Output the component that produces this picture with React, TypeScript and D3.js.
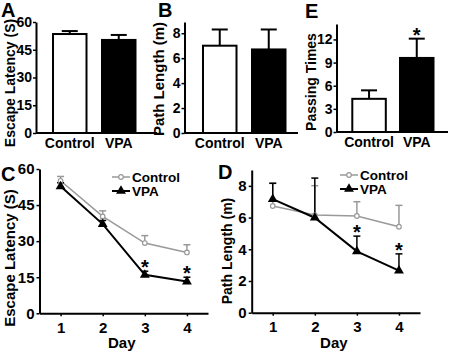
import { useRef, useEffect } from "react";
import * as d3 from "d3";

// bar panels (A, B, E)
const groups = ["Control", "VPA"];
const latencyMeans = [53.5, 50.3];
const latencyErr = [1.6, 2.7];
const pathMeans = [7.0, 6.7];
const pathErr = [1.3, 1.6];
const passingMeans = [4.3, 9.6];
const passingErr = [1.1, 2.5];
const passingSig = [false, true];

// line panels (C, D)
const days = [1, 2, 3, 4];
const ctrlLatency = [55.1, 40.3, 29.2, 25.3];
const ctrlLatencyErr = [1.8, 2.3, 3.1, 3.2];
const vpaLatency = [52.8, 37.1, 16.0, 13.2];
const vpaLatencyErr = [1.5, 1.5, 1.5, 1.8];
const latencySigDays = [3, 4];
const ctrlPath = [6.73, 6.16, 6.1, 5.42];
const ctrlPathErr = [1.45, 1.85, 0.9, 1.35];
const vpaPath = [7.16, 5.99, 3.87, 2.65];
const vpaPathErr = [1.0, 2.5, 0.96, 1.06];
const pathSigDays = [3, 4];

const FONT = "'Liberation Sans', Arial, sans-serif";
const GRAY = "#999999";

const App = () => {
    const svgRef = useRef<SVGSVGElement | null>(null);

    useEffect(() => {
        const svg = d3.select(svgRef.current);
        svg.selectAll("*").remove();
        svg.attr("font-family", FONT).attr("font-weight", "bold");

        const letter = (t: string, x: number, y: number) =>
            svg.append("text").attr("x", x).attr("y", y).attr("font-size", 20).text(t);

        const yTitle = (t: string, x: number, y: number, size: number) =>
            svg.append("text")
                .attr("transform", `translate(${x},${y}) rotate(-90)`)
                .attr("text-anchor", "middle")
                .attr("font-size", size)
                .text(t);

        const styleAxis = (g: any) => {
            g.select(".domain").attr("stroke", "#000").attr("stroke-width", 2);
            g.selectAll(".tick line").attr("stroke", "#000").attr("stroke-width", 1.5);
            g.selectAll(".tick text")
                .attr("font-family", FONT)
                .attr("font-weight", "bold")
                .attr("font-size", 14)
                .attr("fill", "#000");
        };

        const star = (x: number, yCenter: number) =>
            svg.append("text")
                .attr("x", x)
                .attr("y", yCenter + 11)
                .attr("text-anchor", "middle")
                .attr("font-size", 20)
                .text("*");

        // ---------- BAR PANELS ----------
        const barPanel = (cfg: any) => {
            const y = d3.scaleLinear().domain([0, cfg.max]).range([cfg.y0, cfg.yTop]);
            const x = d3.scaleBand()
                .domain(groups)
                .range([cfg.barStart, cfg.barStart + cfg.step + cfg.barW])
                .paddingInner(1 - cfg.barW / cfg.step)
                .paddingOuter(0);
            const g = svg.append("g");

            g.selectAll("rect.bar")
                .data(groups)
                .join("rect")
                .attr("x", (d) => x(d)!)
                .attr("width", x.bandwidth())
                .attr("y", (d, i) => y(cfg.means[i]))
                .attr("height", (d, i) => cfg.y0 - y(cfg.means[i]))
                .attr("fill", (d, i) => (i === 0 ? "#fff" : "#000"))
                .attr("stroke", "#000")
                .attr("stroke-width", 2);

            // upward error bars
            groups.forEach((d, i) => {
                const cx = x(d)! + x.bandwidth() / 2;
                const top = y(cfg.means[i] + cfg.errs[i]);
                g.append("line").attr("x1", cx).attr("x2", cx)
                    .attr("y1", y(cfg.means[i])).attr("y2", top)
                    .attr("stroke", "#000").attr("stroke-width", 2);
                g.append("line").attr("x1", cx - 8).attr("x2", cx + 8)
                    .attr("y1", top).attr("y2", top)
                    .attr("stroke", "#000").attr("stroke-width", 2);
                if (cfg.sig && cfg.sig[i]) star(cx, top - 8);
                g.append("text")
                    .attr("x", cx)
                    .attr("y", cfg.y0 + 15)
                    .attr("text-anchor", "middle")
                    .attr("font-size", 14)
                    .text(d);
            });

            // x axis line
            g.append("line")
                .attr("x1", cfg.axisX).attr("x2", cfg.axisEnd)
                .attr("y1", cfg.y0).attr("y2", cfg.y0)
                .attr("stroke", "#000").attr("stroke-width", 2);

            const ya = g.append("g")
                .attr("transform", `translate(${cfg.axisX},0)`)
                .call(d3.axisLeft(y).tickValues(cfg.ticks).tickSize(3).tickSizeOuter(0).tickPadding(1));
            styleAxis(ya);

            letter(cfg.letter, cfg.letterX, cfg.letterY);
            yTitle(cfg.title, cfg.titleX, cfg.titleY, cfg.titleSize);
        };

        barPanel({
            means: latencyMeans, errs: latencyErr, max: 60, ticks: [0, 15, 30, 45, 60],
            y0: 133, yTop: 22, axisX: 36, axisEnd: 157, barStart: 53, barW: 33.5, step: 49,
            letter: "A", letterX: 1, letterY: 17, title: "Escape Latency (S)", titleX: 15, titleY: 83, titleSize: 14,
        });
        barPanel({
            means: pathMeans, errs: pathErr, max: 8.9, ticks: [0, 2, 4, 6, 8],
            y0: 133, yTop: 22, axisX: 184.5, axisEnd: 298, barStart: 203, barW: 33.5, step: 49,
            letter: "B", letterX: 158, letterY: 17, title: "Path Length (m)", titleX: 164, titleY: 79, titleSize: 15,
        });
        barPanel({
            means: passingMeans, errs: passingErr, sig: passingSig, max: 14, ticks: [0, 3, 6, 9, 12],
            y0: 132, yTop: 24, axisX: 336.5, axisEnd: 448, barStart: 352.3, barW: 33.5, step: 47.7,
            letter: "E", letterX: 305, letterY: 18, title: "Passing Times", titleX: 316, titleY: 82, titleSize: 14,
        });

        // ---------- LINE PANELS ----------
        const linePanel = (cfg: any) => {
            const x = d3.scaleLinear().domain([0.5, 4.5]).range([cfg.xLeft, cfg.xRight]);
            const y = d3.scaleLinear().domain([0, cfg.max]).range([cfg.y0, cfg.yTop]);
            const g = svg.append("g");

            const xa = g.append("g")
                .attr("transform", `translate(0,${cfg.y0})`)
                .call(d3.axisBottom(x).tickValues(days).tickFormat(d3.format("d")).tickSize(3).tickSizeOuter(0).tickPadding(6));
            styleAxis(xa);
            xa.selectAll(".tick text").attr("font-size", 15);

            const ya = g.append("g")
                .attr("transform", `translate(${cfg.xLeft},0)`)
                .call(d3.axisLeft(y).tickValues(cfg.ticks).tickSize(3).tickSizeOuter(0).tickPadding(2));
            styleAxis(ya);
            ya.selectAll(".tick text").attr("font-size", 15);

            const line = d3.line<number>().x((d, i) => x(days[i])).y((d) => y(d));

            const series = [
                { means: cfg.ctrl, errs: cfg.ctrlErr, color: GRAY, width: 1.5, marker: "circle" },
                { means: cfg.vpa, errs: cfg.vpaErr, color: "#000", width: 2, marker: "triangle" },
            ];

            series.forEach((s) => {
                // error bars (upward)
                s.means.forEach((m: number, i: number) => {
                    const cx = x(days[i]);
                    const top = y(m + s.errs[i]);
                    g.append("line").attr("x1", cx).attr("x2", cx)
                        .attr("y1", y(m)).attr("y2", top)
                        .attr("stroke", s.color).attr("stroke-width", 1.5);
                    g.append("line").attr("x1", cx - 3.5).attr("x2", cx + 3.5)
                        .attr("y1", top).attr("y2", top)
                        .attr("stroke", s.color).attr("stroke-width", 1.5);
                });
                g.append("path")
                    .attr("d", line(s.means))
                    .attr("fill", "none")
                    .attr("stroke", s.color)
                    .attr("stroke-width", s.width);
            });

            const drawMarker = (type: string, cx: number, cy: number) => {
                if (type === "circle") {
                    g.append("circle").attr("cx", cx).attr("cy", cy).attr("r", 2.3)
                        .attr("fill", "#fff").attr("stroke", GRAY).attr("stroke-width", 1.2);
                } else {
                    g.append("path")
                        .attr("d", d3.symbol().type(d3.symbolTriangle).size(42)())
                        .attr("transform", `translate(${cx},${cy})`)
                        .attr("fill", "#000");
                }
            };

            series.forEach((s) => {
                s.means.forEach((m: number, i: number) => drawMarker(s.marker, x(days[i]), y(m)));
            });

            // significance stars above VPA error bars
            cfg.sigDays.forEach((day: number) => {
                const i = days.indexOf(day);
                star(x(day), y(cfg.vpa[i] + cfg.vpaErr[i]) - 8);
            });

            // legend
            series.forEach((s, i) => {
                const ly = cfg.legendY + i * 14;
                g.append("line")
                    .attr("x1", cfg.legendX).attr("x2", cfg.legendX + 18)
                    .attr("y1", ly).attr("y2", ly)
                    .attr("stroke", s.color).attr("stroke-width", s.width);
                drawMarker(s.marker, cfg.legendX + 9, ly);
                g.append("text")
                    .attr("x", cfg.legendX + 20)
                    .attr("y", ly + 5)
                    .attr("font-size", 13.5)
                    .text(groups[i]);
            });

            g.append("text")
                .attr("x", (cfg.xLeft + cfg.xRight) / 2 - 2)
                .attr("y", cfg.y0 + 35)
                .attr("text-anchor", "middle")
                .attr("font-size", 15)
                .text("Day");

            letter(cfg.letter, cfg.letterX, cfg.letterY);
            yTitle(cfg.title, cfg.titleX, cfg.titleY, cfg.titleSize);
        };

        linePanel({
            ctrl: ctrlLatency, ctrlErr: ctrlLatencyErr, vpa: vpaLatency, vpaErr: vpaLatencyErr,
            sigDays: latencySigDays, max: 60, ticks: [0, 15, 30, 45, 60],
            xLeft: 39.5, xRight: 208, y0: 313.3, yTop: 169,
            legendX: 112, legendY: 177,
            letter: "C", letterX: 1, letterY: 181, title: "Escape Latency (S)", titleX: 15, titleY: 258, titleSize: 15,
        });
        linePanel({
            ctrl: ctrlPath, ctrlErr: ctrlPathErr, vpa: vpaPath, vpaErr: vpaPathErr,
            sigDays: pathSigDays, max: 9, ticks: [0, 2, 4, 6, 8],
            xLeft: 251.7, xRight: 420, y0: 312.7, yTop: 170,
            legendX: 340, legendY: 175,
            letter: "D", letterX: 218, letterY: 179, title: "Path Length (m)", titleX: 232, titleY: 251, titleSize: 14,
        });
    }, []);

    return (
        <svg
            ref={svgRef}
            width={450}
            height={363}
            style={{ position: "absolute", left: 0, top: 0, background: "#fff" }}
        ></svg>
    );
};

export default App;
